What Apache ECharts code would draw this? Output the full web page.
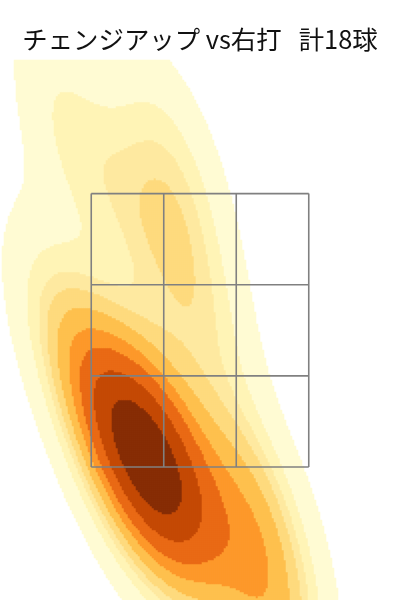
<!DOCTYPE html>
<html><head><meta charset="utf-8">
<script src="https://cdn.jsdelivr.net/npm/echarts@6/dist/echarts.min.js"></script>
<style>html,body{margin:0;padding:0;background:#fff;}#c{width:400px;height:600px;}</style>
</head><body><div id="c"></div>
<script>
// ---- data ----
const titleText = 'チェンジアップ vs右打   計18球';
// 18 pitch locations (horizontal ft, height ft)
const pitchX = [-0.85, -0.16, -0.38, 0.00, -0.90, -0.65, -0.46, -0.36, -0.29, -0.39, -0.14, -0.20, -0.57, -0.13, 0.29, 0.55, 0.46, 0.29];
const pitchZ = [3.76, 3.57, 3.24, 2.65, 2.46, 1.97, 1.84, 1.74, 1.58, 1.52, 1.71, 1.42, 1.71, 1.58, 0.77, 0.47, 1.25, 1.35];
// strike zone grid lines
const zoneXLines = [-0.708, -0.236, 0.236, 0.708];
const zoneZLines = [1.6, 2.193, 2.787, 3.38];
// contour levels as mass quantiles (seaborn default: 10 levels, thresh 0.05)
const levelQuantiles = [0.05, 0.1556, 0.2611, 0.3667, 0.4722, 0.5778, 0.6833, 0.7889, 0.8944, 1.0];
const bandColors = ['#FFFBD3', '#FFF4B6', '#FEE9A0', '#FEDA7E', '#FEC04E', '#FD982B', '#E96A15', '#C44904', '#872D05'];
// axis ranges
const xRange = [-1.302, 1.302];
const zRange = [0.734, 4.25];

// ---- kde (gaussian, Scott bandwidth, full covariance) ----
const n = pitchX.length;
const mx = pitchX.reduce((a, b) => a + b, 0) / n;
const mz = pitchZ.reduce((a, b) => a + b, 0) / n;
let sxx = 0, szz = 0, sxz = 0;
for (let i = 0; i < n; i++) {
  sxx += (pitchX[i] - mx) ** 2; szz += (pitchZ[i] - mz) ** 2; sxz += (pitchX[i] - mx) * (pitchZ[i] - mz);
}
sxx /= (n - 1); szz /= (n - 1); sxz /= (n - 1);
const f2 = Math.pow(n, -1 / 3);
const hxx = sxx * f2, hzz = szz * f2, hxz = sxz * f2;
const det = hxx * hzz - hxz * hxz;
const ixx = hzz / det, izz = hxx / det, ixz = -hxz / det;
function dens(x, z) {
  let s = 0;
  for (let i = 0; i < n; i++) {
    const dx = x - pitchX[i], dz = z - pitchZ[i];
    s += Math.exp(-0.5 * (dx * dx * ixx + 2 * dx * dz * ixz + dz * dz * izz));
  }
  return s;
}
// support grid like seaborn (cut = 3, gridsize = 200) to find levels
const bwx = Math.sqrt(hxx), bwz = Math.sqrt(hzz);
const gx0 = Math.min(...pitchX) - 3 * bwx, gx1 = Math.max(...pitchX) + 3 * bwx;
const gz0 = Math.min(...pitchZ) - 3 * bwz, gz1 = Math.max(...pitchZ) + 3 * bwz;
const G = 200, vals = [];
for (let a = 0; a < G; a++) for (let b = 0; b < G; b++) {
  vals.push(dens(gx0 + (gx1 - gx0) * a / (G - 1), gz0 + (gz1 - gz0) * b / (G - 1)));
}
const sorted = vals.slice().sort((p, q) => q - p);
const tot = vals.reduce((p, q) => p + q, 0);
const cum = []; let acc = 0;
for (const v of sorted) { acc += v; cum.push(acc / tot); }
const levels = levelQuantiles.map(q => {
  const t = 1 - q; let k = 0;
  while (k < cum.length && cum[k] < t) k++;
  return sorted[Math.min(k, sorted.length - 1)];
});

// ---- heatmap cells ----
const NX = 200, NY = 270;
const xCats = [], yCats = [];
for (let i = 0; i < NX; i++) xCats.push(i);
for (let j = 0; j < NY; j++) yCats.push(j);
const cells = [];
for (let i = 0; i < NX; i++) {
  const x = xRange[0] + (i + 0.5) * (xRange[1] - xRange[0]) / NX;
  for (let j = 0; j < NY; j++) {
    const z = zRange[0] + (j + 0.5) * (zRange[1] - zRange[0]) / NY;
    const d = dens(x, z);
    if (d >= levels[0]) cells.push([i, j, d]);
  }
}
const pieces = bandColors.map((c, k) => k < bandColors.length - 1
  ? { gte: levels[k], lt: levels[k + 1], color: c }
  : { gte: levels[k], color: c });

const segs = [];
for (const x of zoneXLines) segs.push([x, zoneZLines[0], x, zoneZLines[3]]);
for (const z of zoneZLines) segs.push([zoneXLines[0], z, zoneXLines[3], z]);

const chart = echarts.init(document.getElementById('c'), null, { renderer: 'canvas' });
chart.setOption({
  animation: false,
  backgroundColor: '#fff',
  title: {
    text: titleText, left: 'center', top: 22,
    textStyle: { fontFamily: 'Noto Sans CJK JP', fontSize: 25.4, fontWeight: 'normal', color: '#111' }
  },
  grid: [
    { left: 0, top: 60, width: 400, height: 540 },
    { left: 0, top: 60, width: 400, height: 540 }
  ],
  xAxis: [
    { type: 'category', data: xCats, gridIndex: 0, show: false },
    { type: 'value', gridIndex: 1, min: xRange[0], max: xRange[1], show: false }
  ],
  yAxis: [
    { type: 'category', data: yCats, gridIndex: 0, show: false },
    { type: 'value', gridIndex: 1, min: zRange[0], max: zRange[1], show: false }
  ],
  visualMap: { type: 'piecewise', show: false, seriesIndex: 0, dimension: 2, pieces: pieces },
  series: [
    { type: 'heatmap', xAxisIndex: 0, yAxisIndex: 0, data: cells, progressive: 0, silent: true,
      itemStyle: { borderWidth: 0 }, emphasis: { disabled: true } },
    { type: 'custom', xAxisIndex: 1, yAxisIndex: 1, data: segs, silent: true,
      renderItem: (params, api) => {
        const p1 = api.coord([api.value(0), api.value(1)]);
        const p2 = api.coord([api.value(2), api.value(3)]);
        return { type: 'line', shape: { x1: p1[0], y1: p1[1], x2: p2[0], y2: p2[1] },
                 style: { stroke: '#808080', lineWidth: 1.6 } };
      } }
  ]
});
</script></body></html>
